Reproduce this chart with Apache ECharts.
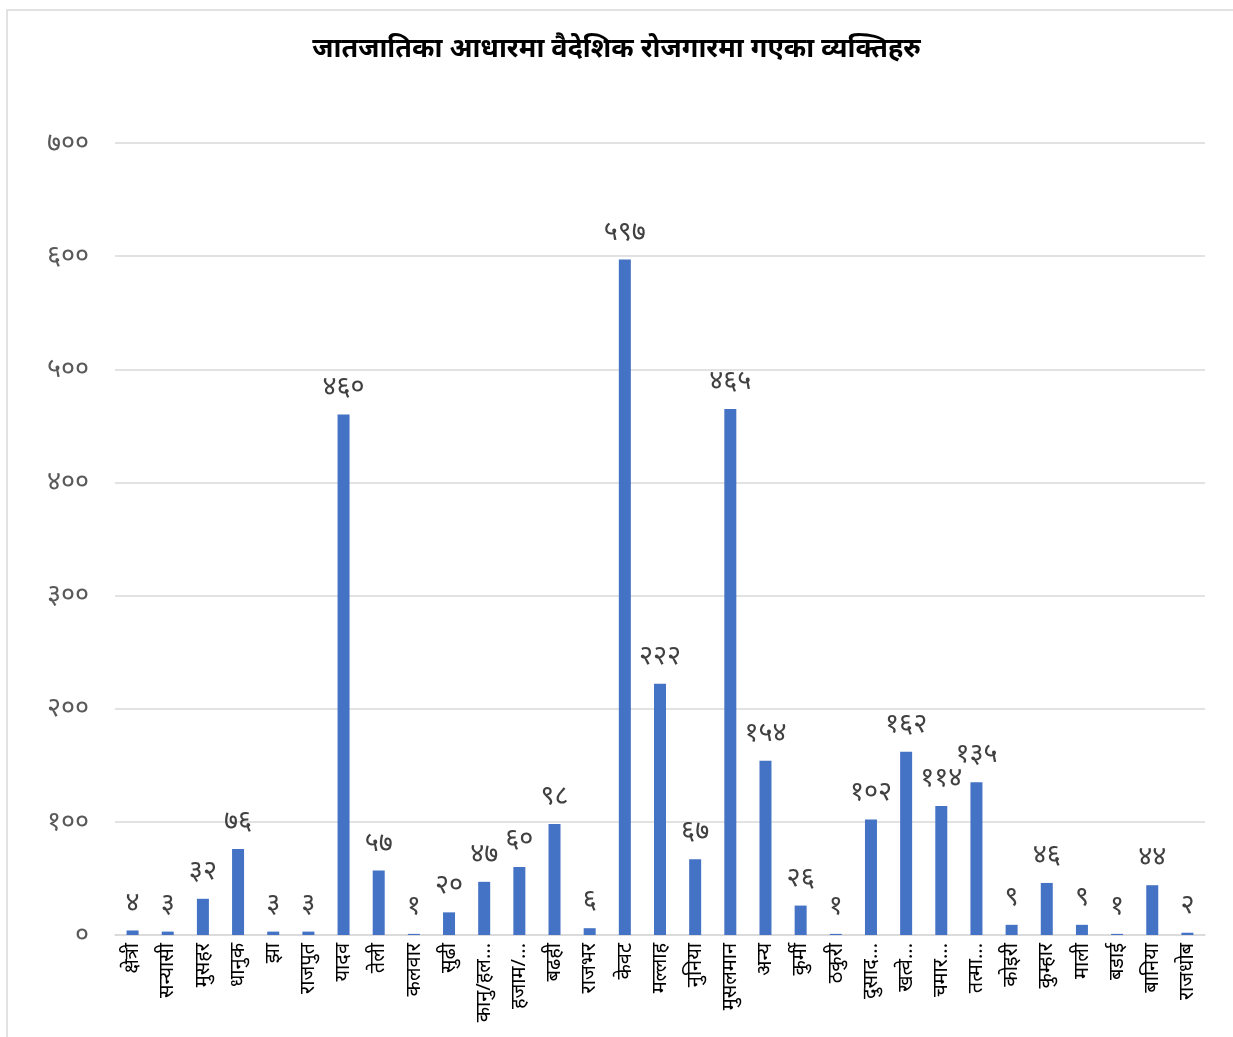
<!DOCTYPE html>
<html>
<head>
<meta charset="utf-8">
<script src="https://cdn.jsdelivr.net/npm/echarts@6/dist/echarts.min.js"></script>
<style>
html,body{margin:0;padding:0;background:#fff;}
#chart{width:1233px;height:1037px;}
</style>
</head>
<body>
<div id="chart"></div>
<script>
const titleText = 'जातजातिका आधारमा वैदेशिक रोजगारमा गएका व्यक्तिहरु';
const categories = ['क्षेत्री','सन्यासी','मुसहर','धानुक','झा','राजपुत','यादव','तेली','कलवार','सुढी','कानु/हल...','हजाम/...','बढही','राजभर','केवट','मल्लाह','नुनिया','मुसलमान','अन्य','कुर्मी','ठकुरी','दुसाद...','खत्वे...','चमार...','तत्मा...','कोइरी','कुम्हार','माली','बडाई','बानिया','राजधोब'];
const values = [4,3,32,76,3,3,460,57,1,20,47,60,98,6,597,222,67,465,154,26,1,102,162,114,135,9,46,9,1,44,2];
const yMin = 0, yMax = 700, yStep = 100;

const devDigits = ['०','१','२','३','४','५','६','७','८','९'];
function toDev(n){ return String(n).replace(/[0-9]/g, d => devDigits[+d]); }

const chart = echarts.init(document.getElementById('chart'));
chart.setOption({
  animation:false,
  backgroundColor:'#fff',
  graphic:[{type:'rect',shape:{x:7,y:10,width:1300,height:1100},style:{fill:'none',stroke:'#d9d9d9',lineWidth:1.5},silent:true}],
  title:{text:titleText,left:'center',top:31,textStyle:{fontSize:27,fontWeight:'bold',color:'#000',fontFamily:'Noto Sans, sans-serif'}},
  grid:{left:115,right:28,top:143,bottom:102},
  xAxis:{type:'category',data:categories,
    axisLine:{lineStyle:{color:'#d9d9d9',width:1.5}},axisTick:{show:false},
    axisLabel:{rotate:90,interval:0,color:'#000',fontSize:20,margin:8,fontFamily:'Noto Sans, sans-serif'}},
  yAxis:{type:'value',min:yMin,max:yMax,interval:yStep,
    axisLine:{show:false},axisTick:{show:false},
    splitLine:{lineStyle:{color:'#d9d9d9',width:1.5}},
    axisLabel:{color:'#595959',fontSize:27,margin:26,formatter:v=>toDev(v),fontFamily:'Noto Sans, sans-serif'}},
  series:[{type:'bar',data:values,barWidth:12,
    itemStyle:{color:'#4472c4'},
    label:{show:true,position:'top',distance:14,color:'#404040',fontSize:27,formatter:p=>toDev(p.value),fontFamily:'Noto Sans, sans-serif'}}]
});
</script>
</body>
</html>
